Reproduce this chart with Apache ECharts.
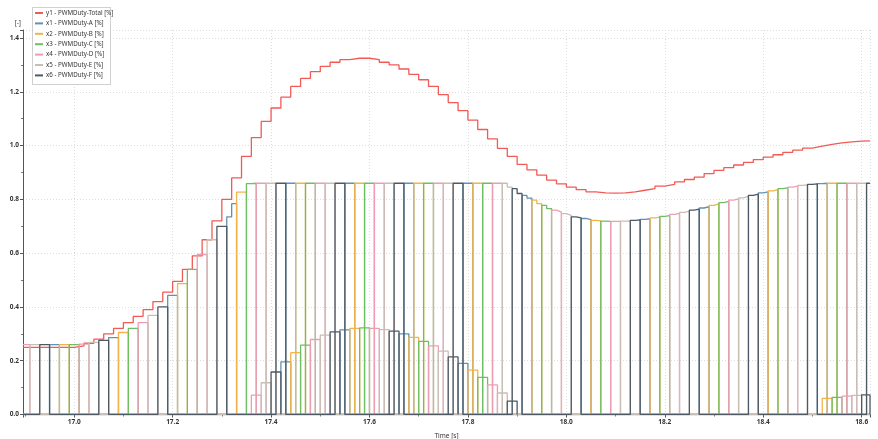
<!DOCTYPE html>
<html>
<head>
<meta charset="utf-8">
<script src="https://cdn.jsdelivr.net/npm/echarts@6/dist/echarts.min.js"></script>
<style>
  html, body { margin: 0; padding: 0; background: #fff; }
  #chart { width: 878px; height: 439px; }
</style>
</head>
<body>
<div id="chart"></div>
<script>
// Signal names and colours
const seriesNames = [
  'y1 - PWMDuty-Total [%]',
  'x1 - PWMDuty-A [%]',
  'x2 - PWMDuty-B [%]',
  'x3 - PWMDuty-C [%]',
  'x4 - PWMDuty-D [%]',
  'x5 - PWMDuty-E [%]',
  'x6 - PWMDuty-F [%]'
];
const seriesColors = ['#f25a55', '#5f92b4', '#f2b44a', '#6cbf62', '#ee9cb4', '#c9beb4', '#4f5963'];

// Total duty, held for 0.02 s, starting 16.90 s
const totalStart = 16.90;
const totalStep = 0.02;
const totalDuty = [
  0.25, 0.25, 0.25, 0.25, 0.25,
  0.255, 0.265, 0.28, 0.30, 0.32,
  0.342, 0.365, 0.39, 0.42, 0.455,
  0.495, 0.54, 0.59, 0.65, 0.72,
  0.80, 0.88, 0.96, 1.03, 1.09,
  1.14, 1.18, 1.22, 1.25, 1.275,
  1.295, 1.31, 1.32, 1.325, 1.325,
  1.32, 1.31, 1.30, 1.285, 1.265,
  1.245, 1.22, 1.19, 1.16, 1.13,
  1.095, 1.06, 1.025, 0.99, 0.96,
  0.93, 0.91, 0.89, 0.872, 0.858,
  0.846, 0.836, 0.828, 0.824, 0.823,
  0.824, 0.828, 0.834, 0.84, 0.849,
  0.856, 0.865, 0.874, 0.883, 0.896,
  0.908, 0.918, 0.928, 0.938, 0.948,
  0.957, 0.966, 0.975, 0.983, 0.991,
  0.998, 1.005, 1.01, 1.014, 1.017,
  1.018
];

// Active-phase duty on a 0.01 s grid starting 16.90 s.
// Phases take turns every 0.02 s (slot edges at 16.91 + 0.02 k).
const phaseStart = 16.90;
const phaseStep = 0.01;
const phaseDuty = [
  0.26, 0.26, 0.26, 0.26, 0.26, 0.26, 0.26, 0.26, 0.26, 0.26,
  0.26, 0.262, 0.262, 0.268, 0.268, 0.276, 0.276, 0.286, 0.286, 0.305,
  0.305, 0.32, 0.32, 0.342, 0.342, 0.369, 0.369, 0.40, 0.40, 0.443,
  0.443, 0.487, 0.487, 0.54, 0.54, 0.595, 0.595, 0.65, 0.65, 0.70,
  0.70, 0.735, 0.784, 0.827, 0.827, 0.859, 0.86, 0.86, 0.86, 0.86,
  0.86, 0.86, 0.86, 0.86, 0.86, 0.86, 0.86, 0.86, 0.86, 0.86,
  0.86, 0.86, 0.86, 0.86, 0.86, 0.86, 0.86, 0.86, 0.86, 0.86,
  0.86, 0.86, 0.86, 0.86, 0.86, 0.86, 0.86, 0.86, 0.86, 0.86,
  0.86, 0.86, 0.86, 0.86, 0.86, 0.86, 0.86, 0.86, 0.86, 0.86,
  0.86, 0.86, 0.86, 0.86, 0.86, 0.86, 0.86, 0.86, 0.846, 0.84,
  0.822, 0.815, 0.805, 0.797, 0.784, 0.778, 0.766, 0.76, 0.753, 0.747,
  0.741, 0.735, 0.731, 0.729, 0.725, 0.722, 0.72, 0.719, 0.718, 0.718,
  0.718, 0.719, 0.72, 0.722, 0.724, 0.726, 0.728, 0.731, 0.734, 0.737,
  0.74, 0.744, 0.748, 0.752, 0.756, 0.76, 0.764, 0.768, 0.773, 0.778,
  0.783, 0.788, 0.793, 0.797, 0.802, 0.806, 0.811, 0.815, 0.82, 0.824,
  0.828, 0.832, 0.836, 0.84, 0.843, 0.846, 0.849, 0.852, 0.854, 0.856,
  0.858, 0.859, 0.86, 0.86, 0.86, 0.86, 0.86, 0.86, 0.86, 0.86,
  0.86, 0.86
];

// Overflow duty handed to the following phase, 0.02 s each (edges at even hundredths)
const overflowStep = 0.02;
const overflowStartA = 17.36;
const overflowA = [
  0.072, 0.118, 0.158, 0.196, 0.23, 0.258, 0.279, 0.295, 0.307, 0.315,
  0.32, 0.322, 0.32, 0.316, 0.31, 0.30, 0.287, 0.272, 0.255, 0.236,
  0.214, 0.19, 0.165, 0.138, 0.11, 0.08, 0.05
];
const overflowStartB = 18.52;
const overflowB = [0.06, 0.064, 0.068, 0.071, 0.073];

const xMin = 16.896, xMax = 18.617;

// Phase order of the slots: slot beginning 17.01 s belongs to D (index 3)
const phaseOfSlot = k => (((k - 2) % 6) + 6) % 6;
const overflowPhaseAt = t => {
  const m = Math.round((t - 16.90) / 0.02);
  return (((m + 4) % 6) + 6) % 6;
};

const r = v => Math.round(v * 10000) / 10000;

// Total: stepped line
const totalData = totalDuty.map((v, i) => [r(totalStart + i * totalStep), v]);
totalData.unshift([xMin, totalDuty[0]]);
totalData.push([xMax, totalDuty[totalDuty.length - 1]]);

// Phases: each is on at the active level during its own slot, zero otherwise
const phaseData = [];
for (let c = 0; c < 6; c++) {
  const pts = [];
  for (let i = 0; i < phaseDuty.length; i++) {
    const k = Math.floor((i - 1) / 2);
    const v = phaseOfSlot(k) === c ? phaseDuty[i] : 0;
    const t0 = i === 0 ? xMin : r(phaseStart + i * phaseStep);
    const t1 = Math.min(r(phaseStart + (i + 1) * phaseStep), xMax);
    pts.push([t0, v], [t1, v]);
  }
  phaseData.push(pts);
}

// Overflow pulses, drawn as separate rectangles per phase
const overflowData = [[], [], [], [], [], []];
function addOverflow(start, values) {
  values.forEach((v, j) => {
    const t0 = r(start + j * overflowStep);
    if (t0 >= xMax) return;
    const t1 = Math.min(r(t0 + overflowStep), xMax);
    const c = overflowPhaseAt(t0);
    const d = overflowData[c];
    d.push([t0, 0], [t0, v], [t1, v], [t1, 0], [null, null]);
  });
}
addOverflow(overflowStartA, overflowA);
addOverflow(overflowStartB, overflowB);

const series = [];
series.push({
  name: seriesNames[0],
  type: 'line',
  step: 'end',
  data: totalData,
  showSymbol: false,
  lineStyle: { width: 1.3, color: seriesColors[0] },
  itemStyle: { color: seriesColors[0] },
  animation: false,
  z: 2
});
for (let c = 0; c < 6; c++) {
  series.push({
    name: seriesNames[c + 1],
    type: 'line',
    data: phaseData[c],
    showSymbol: false,
    lineStyle: { width: 1.3, color: seriesColors[c + 1] },
    itemStyle: { color: seriesColors[c + 1] },
    animation: false,
    z: 2
  });
  series.push({
    name: seriesNames[c + 1],
    type: 'line',
    data: overflowData[c],
    connectNulls: false,
    showSymbol: false,
    lineStyle: { width: 1.3, color: seriesColors[c + 1] },
    itemStyle: { color: seriesColors[c + 1] },
    animation: false,
    z: 2
  });
}

const chart = echarts.init(document.getElementById('chart'), null, { renderer: 'canvas' });
const fontFamily = '"Noto Sans", "DejaVu Sans", sans-serif';
chart.setOption({
  animation: false,
  backgroundColor: '#ffffff',
  grid: { left: 23, right: 8, top: 30, bottom: 24.5, containLabel: false, outerBoundsMode: 'none' },
  graphic: [{
    type: 'rect',
    left: 32, top: 7,
    shape: { width: 78, height: 77 },
    style: { fill: '#ffffff', stroke: '#a0a0a0', lineWidth: 1, lineDash: [1, 1] },
    z: 100
  }],
  legend: {
    orient: 'vertical',
    left: 35, top: 10,
    itemWidth: 8, itemHeight: 2,
    itemGap: 4.4,
    icon: 'rect',
    padding: 0,
    z: 101,
    textStyle: { fontSize: 6.2, color: '#333', fontFamily: fontFamily, padding: [0, 0, 0, -2] },
    data: seriesNames
  },
  xAxis: {
    type: 'value',
    min: xMin, max: xMax,
    splitNumber: 8,
    name: 'Time [s]',
    nameLocation: 'middle',
    nameGap: 18,
    nameTextStyle: { fontSize: 6.5, color: '#333', fontFamily: fontFamily },
    axisLine: { onZero: false, lineStyle: { color: '#555', width: 1 } },
    axisTick: { show: true, length: 3, lineStyle: { color: '#555' } },
    minorTick: { show: true, splitNumber: 2, length: 2, lineStyle: { color: '#777' } },
    axisLabel: {
      showMinLabel: false, showMaxLabel: false,
      fontSize: 6.5, color: '#333', fontWeight: 'bold', fontFamily: fontFamily, margin: 4,
      formatter: v => v.toFixed(1)
    },
    splitLine: { show: true, lineStyle: { color: '#dddddd', type: [1, 2], width: 1 } }
  },
  yAxis: {
    type: 'value',
    min: 0, max: 1.43,
    interval: 0.2,
    name: '[-]',
    nameLocation: 'end',
    nameGap: 3,
    nameTextStyle: { fontSize: 6.5, color: '#333', fontFamily: fontFamily, align: 'right', padding: [0, 2, 0, 0] },
    axisLine: { show: true, lineStyle: { color: '#555', width: 1 } },
    axisTick: { show: true, length: 3, lineStyle: { color: '#555' } },
    minorTick: { show: true, splitNumber: 2, length: 2, lineStyle: { color: '#777' } },
    axisLabel: {
      showMaxLabel: false,
      fontSize: 6.5, color: '#333', fontWeight: 'bold', fontFamily: fontFamily, margin: 4,
      formatter: v => v.toFixed(1)
    },
    splitLine: { show: true, lineStyle: { color: '#dddddd', type: [1, 2], width: 1 } }
  },
  series: series
});
</script>
</body>
</html>
